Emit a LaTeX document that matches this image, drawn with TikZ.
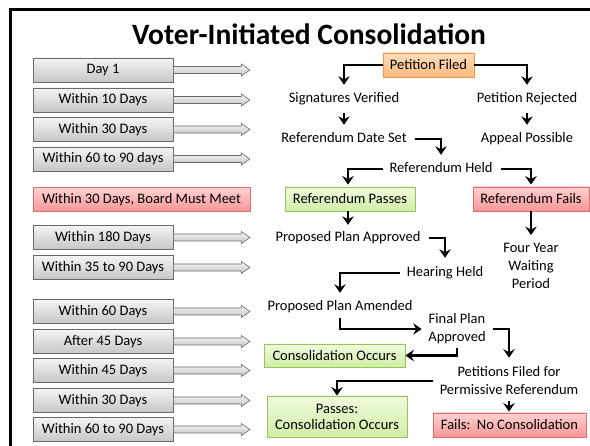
\documentclass[tikz,border=0pt]{standalone}
\usepackage{fontspec}
\setmainfont{Carlito}
\usetikzlibrary{arrows.meta,shadings,calc}
\definecolor{gborder}{RGB}{105,105,105}
\definecolor{gtop}{RGB}{244,244,244}
\definecolor{gbot}{RGB}{198,198,198}
\definecolor{rtop}{RGB}{255,210,210}
\definecolor{rbot}{RGB}{245,150,150}
\definecolor{rborder}{RGB}{225,110,110}
\definecolor{ntop}{RGB}{240,250,222}
\definecolor{nbot}{RGB}{208,238,165}
\definecolor{nborder}{RGB}{150,195,90}
\definecolor{otop}{RGB}{253,222,188}
\definecolor{obot}{RGB}{250,185,125}
\definecolor{oborder}{RGB}{245,150,70}
\begin{document}
\begin{tikzpicture}[x=1pt,y=-1pt,
  every node/.style={font=\fontsize{14.5}{18}\selectfont, inner sep=1pt},
  txt/.style={text height=10pt, text depth=3pt},
  mtxt/.style={align=center},
  lbox/.style={draw=gborder, line width=0.8pt, top color=gtop, bottom color=gbot,
    minimum width=140pt, minimum height=24pt},
  redbox/.style={draw=rborder, line width=0.8pt, top color=rtop, bottom color=rbot,
    minimum height=24pt},
  grnbox/.style={draw=nborder, line width=0.8pt, top color=ntop, bottom color=nbot,
    minimum height=24pt},
  orgbox/.style={draw=oborder, line width=0.8pt, top color=otop, bottom color=obot,
    minimum height=24pt},
  blockarr/.style={draw=gborder, line width=0.6pt, top color=gtop, bottom color=gbot},
  arr/.style={line width=2.7pt, -{Stealth[length=8.5pt,width=11.5pt,inset=3pt]}},
  frame/.style={line width=2.6pt}
]
\useasboundingbox (0,0) rectangle (590,446);
\draw[frame] (10.3,450) -- (10.3,9.7) -- (595,9.7);

% title
\node[font=\fontsize{29.5}{34}\selectfont\bfseries, anchor=base] (title) at (309,45) {Voter-Initiated Consolidation};

% left timeline boxes
\node[lbox] (d1)   at (103,70)    {Day 1};
\node[lbox] (d10)  at (103,100)   {Within 10 Days};
\node[lbox] (d30)  at (103,129.5) {Within 30 Days};
\node[lbox] (d6090)at (103,159)   {Within 60 to 90 days};
\node[redbox, minimum width=217pt] (board) at (141.5,199.5) {Within 30 Days, Board Must Meet};
\node[lbox] (d180) at (103,237.5) {Within 180 Days};
\node[lbox] (d3590)at (103,267.5) {Within 35 to 90 Days};
\node[lbox] (d60)  at (103,311.5) {Within 60 Days};
\node[lbox] (a45)  at (103,341.5) {After 45 Days};
\node[lbox] (w45)  at (103,370.5) {Within 45 Days};
\node[lbox] (w30)  at (103,400.5) {Within 30 Days};
\node[lbox] (w6090)at (103,429.5) {Within 60 to 90 Days};

\foreach \n in {d1,d10,d30,d6090,d180,d3590,d60,a45,w45,w30,w6090}
  \draw[blockarr] (\n.east) ++(0,-3.5) -- ++(68,0) -- ++(0,-2.5) -- ++(8.5,6)
     -- ++(-8.5,6) -- ++(0,-2.5) -- ++(-68,0) -- cycle;

% right flow
\node[orgbox, minimum width=91pt] (pf) at (428.5,65) {Petition Filed};
\node[txt] (sv)  at (344,99)  {Signatures Verified};
\node[txt] (pr)  at (527,99)  {Petition Rejected};
\node[txt] (rds) at (344,139) {Referendum Date Set};
\node[txt] (ap)  at (527,139) {Appeal Possible};
\node[txt] (rh)  at (441,169) {Referendum Held};
\node[grnbox, minimum width=130pt] (rp) at (350,199) {Referendum Passes};
\node[redbox, minimum width=116pt] (rf) at (531,199) {Referendum Fails};
\node[txt] (ppa) at (348,238) {Proposed Plan Approved};
\node[mtxt] (fy) at (531,266) {Four Year\\Waiting\\Period};
\node[txt] (hh)  at (445,273) {Hearing Held};
\node[txt] (ppam) at (340,307) {Proposed Plan Amended};
\node[mtxt] (fpa) at (457,329) {Final Plan\\Approved};
\node[grnbox, minimum width=141pt, minimum height=23pt] (co) at (334.5,355.5) {Consolidation Occurs};
\node[mtxt] (pfr) at (509,381) {Petitions Filed for\\Permissive Referendum};
\node[grnbox, mtxt, minimum width=140pt, minimum height=41pt, font=\fontsize{14.5}{16}\selectfont] (ppc) at (337,416.5) {Passes:\\Consolidation Occurs};
\node[redbox, minimum width=153pt] (fnc) at (509.5,425) {Fails:\ \ No Consolidation};

% connectors
\draw[arr, shorten >=6.5pt] (pf.west) -| (sv.north);
\draw[arr, shorten >=6.5pt] (pf.east) -| (pr.north);
\draw[arr, shorten <=6.5pt, shorten >=6.5pt] (sv.south) -- (rds.north);
\draw[arr, shorten <=6.5pt, shorten >=6.5pt] (pr.south) -- (ap.north);
\draw[arr, shorten <=7pt, shorten >=6.5pt] (rds.east) -| (rh.north);
\draw[arr, shorten <=5pt, shorten >=2pt] (rh.west) -| ([xshift=-2pt]rp.north);
\draw[arr, shorten <=7pt, shorten >=2pt] (rh.east) -| (rf.north);
\draw[arr, shorten >=5.5pt] (rp.south -| ppa.north) -- (ppa.north);
\draw[arr, shorten >=7pt] (rf.south) -- (rf.south |- fy.north);
\draw[arr, shorten <=7pt, shorten >=7.5pt] (ppa.east) -| (hh.north);
\draw[arr, shorten <=6pt, shorten >=6.5pt] (hh.west) -| (ppam.north);
\draw[arr, shorten <=3.5pt, shorten >=5.5pt] (ppam.south) |- (fpa.west);
\draw[arr, shorten <=6.5pt, shorten >=8pt] (fpa.east) -| (pfr.north);
\draw[arr, shorten <=2.5pt] (fpa.south) |- (co.east);
\draw[arr, shorten <=6pt] (pfr.west) -| (ppc.north);
\draw[arr, shorten <=5pt, shorten >=1pt] (pfr.south) -- (pfr.south |- fnc.north);
\end{tikzpicture}
\end{document}
